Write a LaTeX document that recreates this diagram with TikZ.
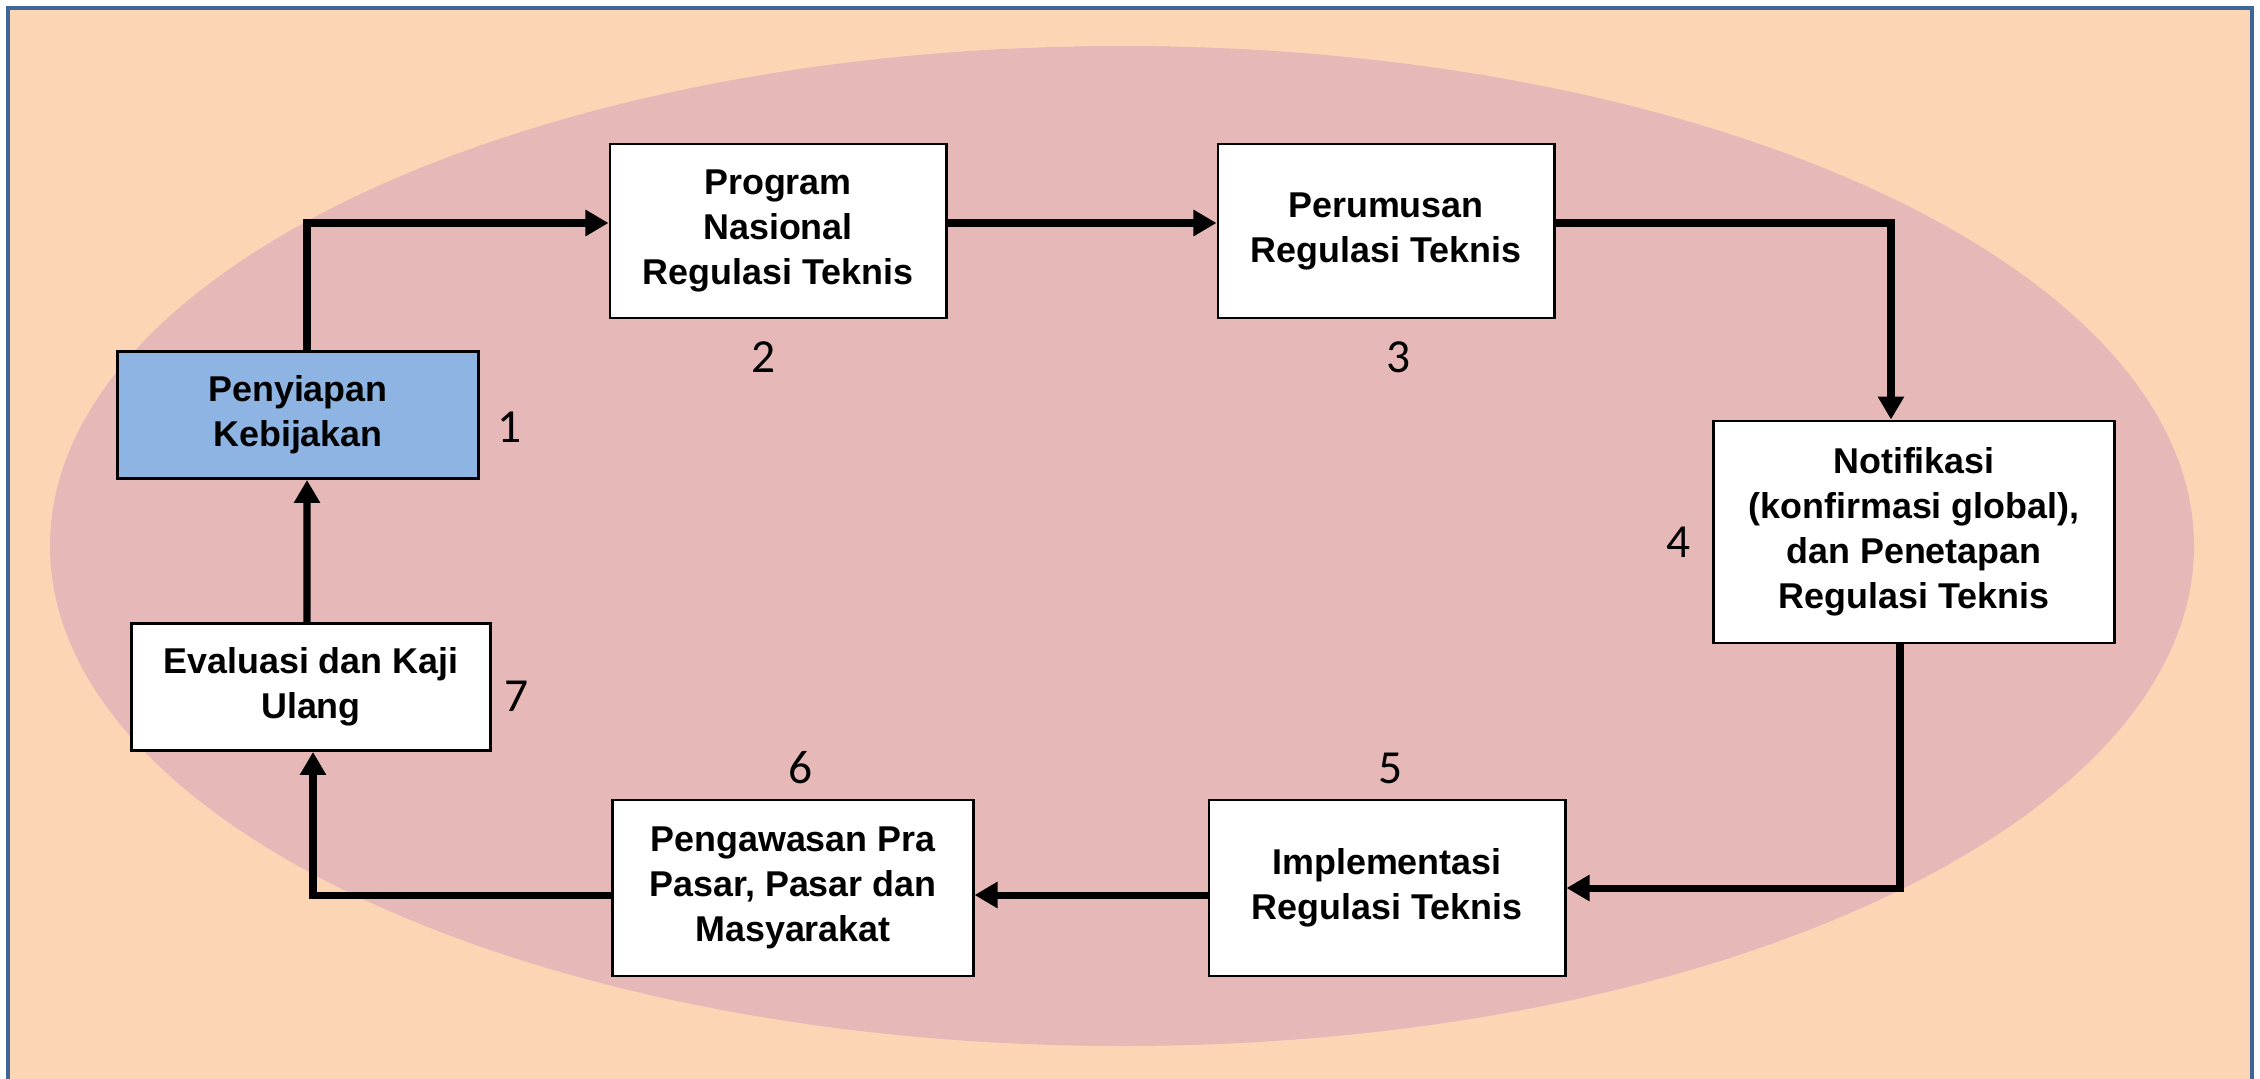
\documentclass[tikz,border=0pt]{standalone}
\usepackage{fontspec}
\setmainfont{Liberation Sans}
\newfontfamily\numfont{Carlito}
\usetikzlibrary{arrows.meta}
\definecolor{peach}{HTML}{FCD5B5}
\definecolor{rosy}{HTML}{E6B9B8}
\definecolor{skyblue}{HTML}{8EB4E3}
\definecolor{frameblue}{HTML}{3F6699}

\begin{document}
\begin{tikzpicture}[
	x=0.01cm, y=-0.01cm,
	stage/.style={draw, line width=0.8pt, fill=white, inner sep=0pt, align=center,
		font=\bfseries\fontsize{10.2}{12.8}\selectfont},
	num/.style={font=\numfont\fontsize{13.5}{14}\selectfont, inner sep=0pt},
	flow/.style={line width=2pt, -{Triangle[length=0.23cm, width=0.25cm]}}
	]
	\useasboundingbox (0,0) rectangle (2260,1078);
	\fill[peach] (8,8) rectangle (2252,1100);
	\draw[frameblue, line width=1.2pt] (8,1100) -- (8,8) -- (2252,8) -- (2252,1100);
	\fill[rosy] (1122,546) ellipse [x radius=1072, y radius=500];

	% the seven stages
	\node[stage, fill=skyblue, minimum width=3.6cm, minimum height=1.27cm] (penyiapan) at (298,415) {Penyiapan\\Kebijakan};
	\node[stage, minimum width=3.36cm, minimum height=1.74cm] (program) at (778,231) {Program\\Nasional\\Regulasi Teknis};
	\node[stage, minimum width=3.36cm, minimum height=1.74cm] (perumusan) at (1386,231) {Perumusan\\Regulasi Teknis};
	\node[stage, minimum width=4.01cm, minimum height=2.22cm] (notifikasi) at (1914,532) {Notifikasi\\(konfirmasi global),\\dan Penetapan\\Regulasi Teknis};
	\node[stage, minimum width=3.56cm, minimum height=1.76cm] (implementasi) at (1387,888) {Implementasi\\Regulasi Teknis};
	\node[stage, minimum width=3.6cm, minimum height=1.76cm] (pengawasan) at (793,888) {Pengawasan Pra\\Pasar, Pasar dan\\Masyarakat};
	\node[stage, minimum width=3.59cm, minimum height=1.27cm] (evaluasi) at (311,687) {Evaluasi dan Kaji\\Ulang};

	% step numbers
	\node[num] (n1) at (510,427) {1};
	\node[num] (n2) at (764,357) {2};
	\node[num] (n3) at (1399,357) {3};
	\node[num] (n4) at (1679,542) {4};
	\node[num] (n5) at (1391,768) {5};
	\node[num] (n6) at (801,768) {6};
	\node[num] (n7) at (517,696) {7};

	% the cycle
	\draw[flow] ([xshift=0.09cm]penyiapan.north) |- ([yshift=0.08cm]program.west);
	\draw[flow] ([yshift=0.08cm]program.east) -- ([yshift=0.08cm]perumusan.west);
	\draw[flow] ([yshift=0.08cm]perumusan.east) -| ([xshift=-0.23cm]notifikasi.north);
	\draw[flow] ([xshift=-0.14cm]notifikasi.south) |- (implementasi.east);
	\draw[flow] ([yshift=-0.07cm]implementasi.west) -- ([yshift=-0.07cm]pengawasan.east);
	\draw[flow] ([yshift=-0.07cm]pengawasan.west) -| ([xshift=0.02cm]evaluasi.south);
	\draw[flow] ([xshift=-0.04cm]evaluasi.north) -- ([xshift=0.09cm]penyiapan.south);
\end{tikzpicture}
\end{document}
